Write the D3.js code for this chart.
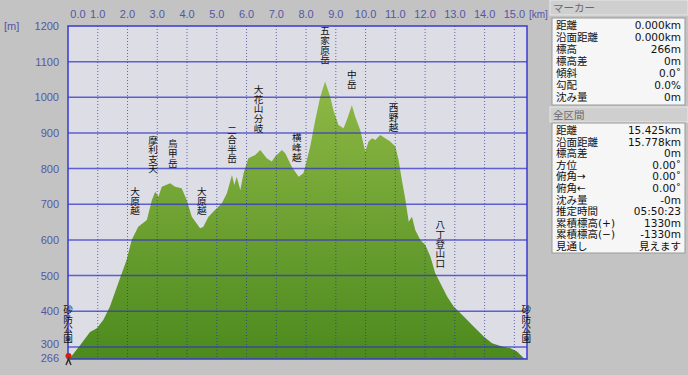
<!DOCTYPE html>
<html>
<head>
<meta charset="utf-8">
<script src="https://cdn.jsdelivr.net/npm/d3@7"></script>
<style>
  html, body { margin: 0; padding: 0; background: #c3c3c3; }
  svg { display: block; font-family: "Liberation Sans", "Noto Sans CJK JP", sans-serif; }
  .tick-label { fill: #5656a6; font-size: 11px; }
  .place { fill: #111; font-size: 9.6px; font-family: "Noto Sans CJK JP", sans-serif;
    writing-mode: vertical-rl; text-orientation: upright; }
  .panel-text { fill: #111; font-size: 10.5px; font-family: "DejaVu Sans", "Noto Sans CJK JP", sans-serif; }
</style>
</head>
<body>
<div id="chart"></div>
<script>
// Elevation profile, distance (km) vs elevation (m)

const WIDTH = 688;
const HEIGHT = 375;

// profile
const distKm = [0, 0.07, 0.40, 0.74, 0.97, 1.19, 1.41, 1.69, 1.97, 2.14, 2.36, 2.65, 2.82, 2.93,
  3.04, 3.15, 3.43, 3.60, 3.82, 3.99, 4.16, 4.44, 4.55, 4.72, 4.94, 5.17, 5.34, 5.51, 5.59,
  5.67, 5.79, 5.90, 6.06, 6.29, 6.46, 6.68, 6.85, 6.96, 7.19, 7.30, 7.52, 7.75, 7.91, 7.97,
  8.14, 8.31, 8.48, 8.64, 8.81, 8.92, 9.09, 9.26, 9.37, 9.54, 9.65, 9.82, 9.99, 10.10, 10.22,
  10.33, 10.49, 10.66, 10.83, 11.00, 11.11, 11.22, 11.34, 11.45, 11.56, 11.67, 11.84, 12.01,
  12.18, 12.34, 12.51, 12.74, 12.96, 13.30, 13.63, 13.97, 14.25, 14.59, 14.87, 15.09, 15.32, 15.425];
const elevM = [266, 269, 304, 342, 352, 376, 413, 479, 544, 600, 637, 656, 712, 735,
  721, 749, 759, 749, 745, 712, 665, 633, 637, 665, 684, 703, 731, 782, 754,
  777, 740, 787, 829, 838, 852, 829, 820, 834, 852, 843, 805, 777, 787, 805,
  862, 936, 1002, 1044, 1002, 964, 922, 913, 936, 978, 946, 908, 848, 876, 885,
  880, 894, 885, 876, 862, 824, 768, 712, 651, 665, 628, 600, 586,
  553, 507, 479, 441, 413, 385, 357, 329, 310, 301, 296, 287, 268, 266];

const xTicks = [0, 1, 2, 3, 4, 5, 6, 7, 8, 9, 10, 11, 12, 13, 14, 15];
const yTicks = [266, 300, 400, 500, 600, 700, 800, 900, 1000, 1100, 1200];
const gridM = [300, 400, 500, 600, 700, 800, 900, 1000, 1100];

// place names: km position and elevation of the first character's top
const placeNames = ["砂防公園", "大原越", "摩利支天", "烏甲岳", "大原越", "二合半岳", "大花山分岐",
  "横峰越", "五家原岳", "中岳", "西野越", "八丁登山口", "砂防公園"];
const placeKm = [0, 2.25, 2.86, 3.52, 4.50, 5.51, 6.40, 7.69, 8.64, 9.54, 10.94, 12.51, 15.40];
const placeTopM = [418, 749, 894, 883, 749, 922, 1035, 900, 1200, 1077, 984, 656, 418];

// info panel
const markerLabels = ["距離", "沿面距離", "標高", "標高差", "傾斜", "勾配", "沈み量"];
const markerValues = ["0.000km", "0.000km", "266m", "0m", "0.0˚", "0.0%", "0m"];
const totalLabels = ["距離", "沿面距離", "標高差", "方位", "俯角→", "俯角←", "沈み量", "推定時間",
  "累積標高(+)", "累積標高(−)", "見通し"];
const totalValues = ["15.425km", "15.778km", "0m", "0.00˚", "0.00˚", "0.00˚", "-0m", "05:50:23",
  "1330m", "-1330m", "見えます"];

const plot = { left: 68, right: 527, top: 26, bottom: 359 };

const svg = d3.select("#chart").append("svg")
  .attr("width", WIDTH)
  .attr("height", HEIGHT);

const x = d3.scaleLinear().domain([0, 15.425]).range([plot.left, plot.right]);
const y = d3.scaleLinear().domain([266, 1200]).range([plot.bottom, plot.top]);

const defs = svg.append("defs");
const grad = defs.append("linearGradient")
  .attr("id", "fillGrad")
  .attr("gradientUnits", "userSpaceOnUse")
  .attr("x1", 0).attr("x2", 0)
  .attr("y1", plot.top).attr("y2", plot.bottom);
grad.append("stop").attr("offset", "0%").attr("stop-color", "#9cc24e");
grad.append("stop").attr("offset", "100%").attr("stop-color", "#4c8a1e");

defs.append("clipPath").attr("id", "plotClip")
  .append("rect")
  .attr("x", plot.left).attr("y", plot.top)
  .attr("width", plot.right - plot.left).attr("height", plot.bottom - plot.top);

// plot background
svg.append("rect")
  .attr("x", plot.left).attr("y", plot.top)
  .attr("width", plot.right - plot.left).attr("height", plot.bottom - plot.top)
  .attr("fill", "#dddde6");

// area
const area = d3.area()
  .x((d, i) => x(distKm[i]))
  .y0(plot.bottom)
  .y1((d) => y(d));

svg.append("path")
  .datum(elevM)
  .attr("clip-path", "url(#plotClip)")
  .attr("d", area)
  .attr("fill", "url(#fillGrad)");

// grid on top of the fill
const grid = svg.append("g").attr("clip-path", "url(#plotClip)");
grid.selectAll("line.h")
  .data(gridM)
  .join("line")
  .attr("class", "h")
  .attr("x1", plot.left).attr("x2", plot.right)
  .attr("y1", (d) => y(d)).attr("y2", (d) => y(d))
  .attr("stroke", "rgba(52,52,200,0.75)")
  .attr("stroke-width", 1.5);
grid.selectAll("line.v")
  .data(xTicks.slice(1))
  .join("line")
  .attr("class", "v")
  .attr("x1", (d) => x(d)).attr("x2", (d) => x(d))
  .attr("y1", plot.top).attr("y2", plot.bottom)
  .attr("stroke", "rgba(50,50,150,0.7)")
  .attr("stroke-width", 1)
  .attr("stroke-dasharray", "1,2");

// plot frame
svg.append("rect")
  .attr("x", plot.left).attr("y", plot.top)
  .attr("width", plot.right - plot.left).attr("height", plot.bottom - plot.top)
  .attr("fill", "none")
  .attr("stroke", "#3a3ad0")
  .attr("stroke-width", 1.5);

// tick labels
svg.append("g").selectAll("text")
  .data(xTicks)
  .join("text")
  .attr("class", "tick-label")
  .attr("x", (d) => d === 0 ? x(d) + 10 : x(d))
  .attr("y", 18)
  .attr("text-anchor", "middle")
  .text((d) => d.toFixed(1));

svg.append("g").selectAll("text")
  .data(yTicks)
  .join("text")
  .attr("class", "tick-label")
  .attr("x", 59)
  .attr("y", (d) => d === 300 ? y(d) + 1 : d === 266 ? y(d) + 3 : y(d) + 4)
  .attr("text-anchor", "end")
  .text((d) => d);

svg.append("text").attr("class", "tick-label")
  .attr("x", 4).attr("y", 30).text("[m]");
svg.append("text").attr("class", "tick-label")
  .attr("x", 529).attr("y", 18)
  .style("font-size", "10px")
  .text("[km]");

// place names, written top to bottom
svg.append("g").selectAll("text")
  .data(placeNames)
  .join("text")
  .attr("class", "place")
  .attr("x", (d, i) => x(placeKm[i]))
  .attr("y", (d, i) => y(placeTopM[i]))
  .text((d) => d);

// start marker icon
svg.append("circle")
  .attr("cx", x(0) + 0.5).attr("cy", y(266) - 3).attr("r", 3)
  .attr("fill", "#d02010");
svg.append("path")
  .attr("d", `M${x(0) - 2},${y(266) + 6} L${x(0) + 0.5},${y(266)} L${x(0) + 3},${y(266) + 6}`)
  .attr("stroke", "#333").attr("stroke-width", 1.5).attr("fill", "none");

// ---- right info panel ----
const px = 549;
const panel = svg.append("g");

function header(yTop, label) {
  panel.append("rect")
    .attr("x", px + 1).attr("y", yTop)
    .attr("width", WIDTH - px - 1).attr("height", 15)
    .attr("fill", "#cfcfcf").attr("stroke", "#e8e8e8");
  panel.append("text")
    .attr("class", "panel-text")
    .attr("x", px + 4).attr("y", yTop + 12)
    .style("fill", "#6a6a6a")
    .text(label);
}

function table(yTop, yBottom, labels, values, step) {
  panel.append("rect")
    .attr("x", px + 3).attr("y", yTop)
    .attr("width", WIDTH - px - 6).attr("height", yBottom - yTop)
    .attr("fill", "#f6f6f6")
    .attr("stroke", "#9a9a9a");
  panel.selectAll(null)
    .data(labels)
    .join("text")
    .attr("class", "panel-text")
    .attr("x", px + 7)
    .attr("y", (d, i) => yTop + 11 + i * step)
    .text((d) => d);
  panel.selectAll(null)
    .data(values)
    .join("text")
    .attr("class", "panel-text")
    .attr("x", WIDTH - 7)
    .attr("y", (d, i) => yTop + 11 + i * step)
    .attr("text-anchor", "end")
    .text((d) => d);
}

header(0, "マーカー");
table(18, 105, markerLabels, markerValues, 12);
header(107, "全区間");
table(123, 253, totalLabels, totalValues, 11.6);
</script>
</body>
</html>
